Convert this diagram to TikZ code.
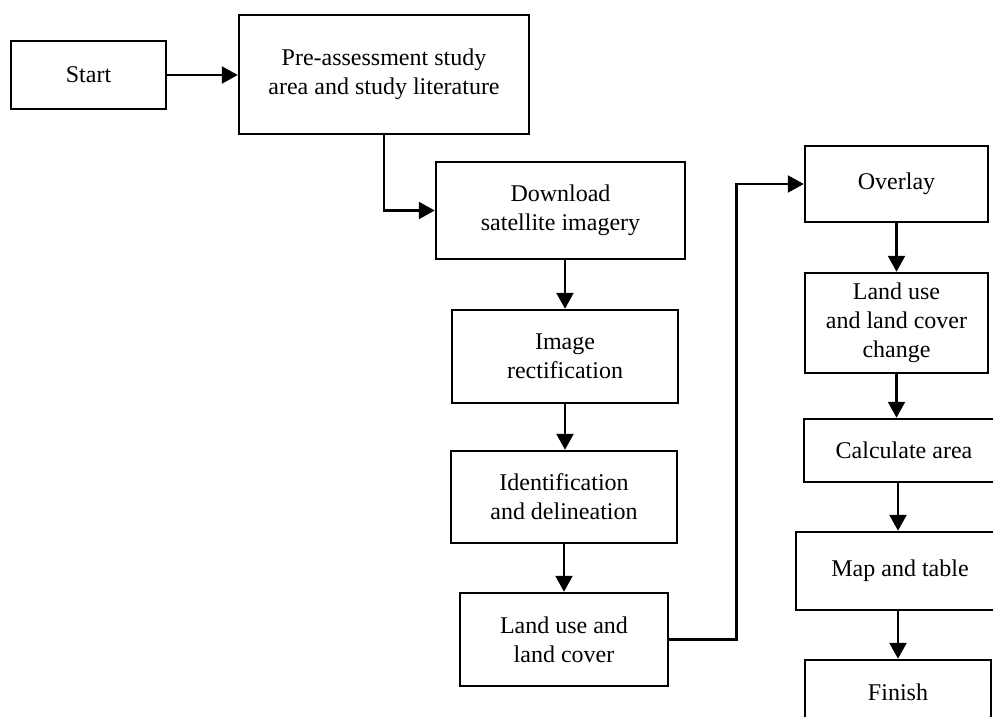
\documentclass[tikz,border=0pt]{standalone}
\usepackage{fontspec}
\setmainfont{Liberation Serif}
\usetikzlibrary{arrows.meta}
\tikzset{
  box/.style={draw,line width=2.5pt,align=center,inner sep=0pt,font=\fontsize{24}{29}\selectfont},
  arr/.style={line width=2.5pt,-{Triangle[length=16pt,width=17pt]}}
}
\begin{document}
\begin{tikzpicture}[x=1pt,y=-1pt]
\useasboundingbox (0,0) rectangle (993,717);
\clip (0,0) rectangle (993,717);

\node[box,minimum width=155pt,minimum height=68pt] (start) at (88.5,75) {Start};
\node[box,minimum width=290pt,minimum height=119pt] (pre) at (384,74.5) {Pre-assessment study\\area and study literature};
\node[box,minimum width=249pt,minimum height=97pt] (dl) at (560.5,210.5) {Download\\satellite imagery};
\node[box,minimum width=226pt,minimum height=93pt] (ir) at (565,356.5) {Image\\rectification};
\node[box,minimum width=226pt,minimum height=92pt] (idn) at (564,497) {Identification\\and delineation};
\node[box,minimum width=208pt,minimum height=93pt] (lc) at (564,639.5) {Land use and\\land cover};

\node[box,minimum width=183pt,minimum height=76pt] (ov) at (896.5,184) {Overlay};
\node[box,minimum width=183pt,minimum height=100pt] (lcc) at (896.5,323) {Land use\\and land cover\\change};
\node[box,minimum width=200pt,minimum height=63pt] (calc) at (904,450.5) {Calculate area};
\node[box,minimum width=208pt,minimum height=78pt] (map) at (900,571) {Map and table};
\node[box,minimum width=186pt,minimum height=64pt] (fin) at (898,692) {Finish};

\draw[arr] (start.east) -- (start.east -| pre.west);
\draw[arr] (pre.south) |- (dl.west);
\draw[arr] (dl.south -| ir.north) -- (ir.north);
\draw[arr] (ir.south) -- (ir.south |- idn.north);
\draw[arr] (idn.south) -- (idn.south |- lc.north);
\draw[arr] (lc.east) -- ++(67,0) |- (ov.west);
\draw[arr] (ov.south) -- (ov.south |- lcc.north);
\draw[arr] (lcc.south) -- (lcc.south |- calc.north);
\draw[arr] (calc.south -| fin.north) -- (map.north -| fin.north);
\draw[arr] (map.south -| fin.north) -- (fin.north);

\end{tikzpicture}
\end{document}
